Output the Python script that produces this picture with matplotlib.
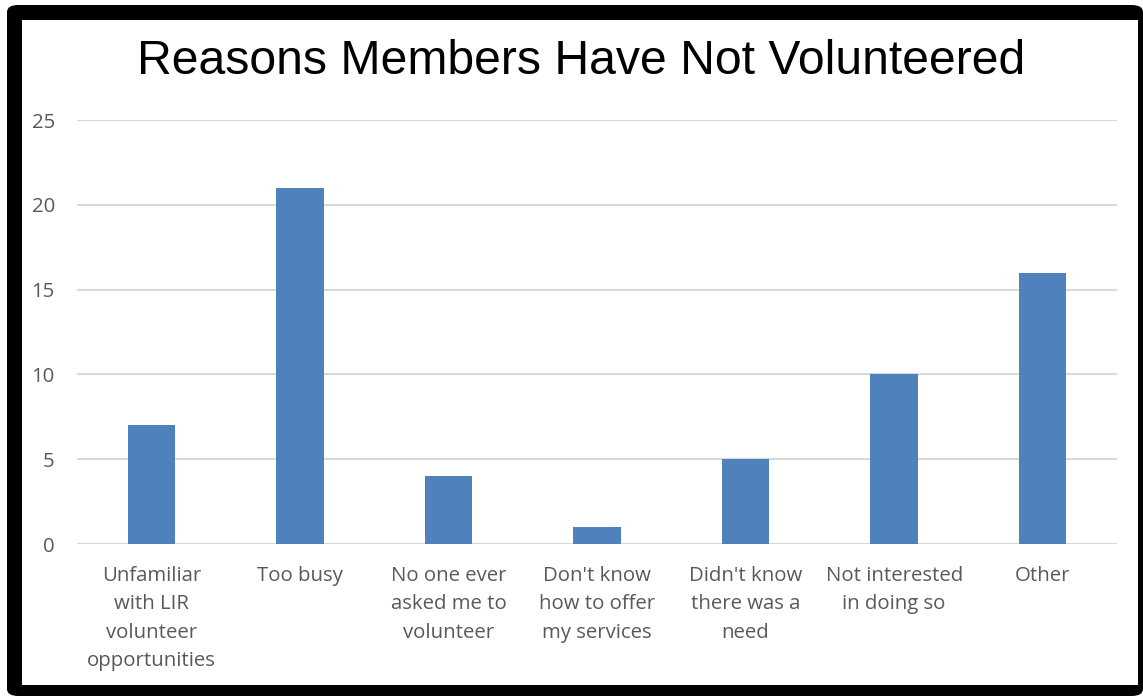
import matplotlib.pyplot as plt
from matplotlib.patches import FancyBboxPatch, Rectangle

# === Data ===
categories = [
    "Unfamiliar\nwith LIR\nvolunteer\nopportunities",
    "Too busy",
    "No one ever\nasked me to\nvolunteer",
    "Don't know\nhow to offer\nmy services",
    "Didn't know\nthere was a\nneed",
    "Not interested\nin doing so",
    "Other",
]
counts = [7, 21, 4, 1, 5, 10, 16]
y_ticks = [0, 5, 10, 15, 20, 25]

W, H = 1143, 696
fig = plt.figure(figsize=(W / 100, H / 100), dpi=100)
fig.patch.set_facecolor("white")

# black frame with white chart area inside
fig.patches.append(FancyBboxPatch((7 / W, 0), 1 - 7 / W, 1 - 5 / H,
                                  boxstyle="round,pad=0,rounding_size=0.01",
                                  transform=fig.transFigure, facecolor="black",
                                  edgecolor="none", zorder=0))
fig.patches.append(Rectangle((22 / W, 11 / H), (1138 - 22) / W, (685 - 20) / H,
                             transform=fig.transFigure, facecolor="white",
                             edgecolor="none", zorder=1))

ax = fig.add_axes([77 / W, 1 - 544 / H, (1117 - 77) / W, (544 - 120) / H])
ax.set_facecolor("none")
ax.set_zorder(2)

x = range(len(categories))
ax.bar(x, counts, width=0.32, color="#4F81BD", zorder=3)

ax.set_xlim(-0.5, len(categories) - 0.5)
ax.set_ylim(0, 25)
ax.set_yticks(y_ticks)
ax.set_xticks(list(x))
ax.set_xticklabels(categories, fontsize=14.7, color="#595959", family="Open Sans",
                   linespacing=1.55, va="top")
for lbl in ax.get_yticklabels():
    lbl.set_fontsize(14.7)
    lbl.set_color("#595959")
    lbl.set_family("Open Sans")

ax.grid(axis="y", color="#D9D9D9", linewidth=1.5, zorder=0)
ax.set_axisbelow(True)
for s in ax.spines.values():
    s.set_visible(False)
ax.tick_params(axis="both", length=0)
ax.tick_params(axis="x", pad=16)
ax.tick_params(axis="y", pad=16)

fig.text(581 / W, 1 - 62 / H, "Reasons Members Have Not Volunteered",
         ha="center", va="center", fontsize=34.7, family="Liberation Sans",
         color="black", zorder=5)

fig.savefig("out.png", dpi=100)
